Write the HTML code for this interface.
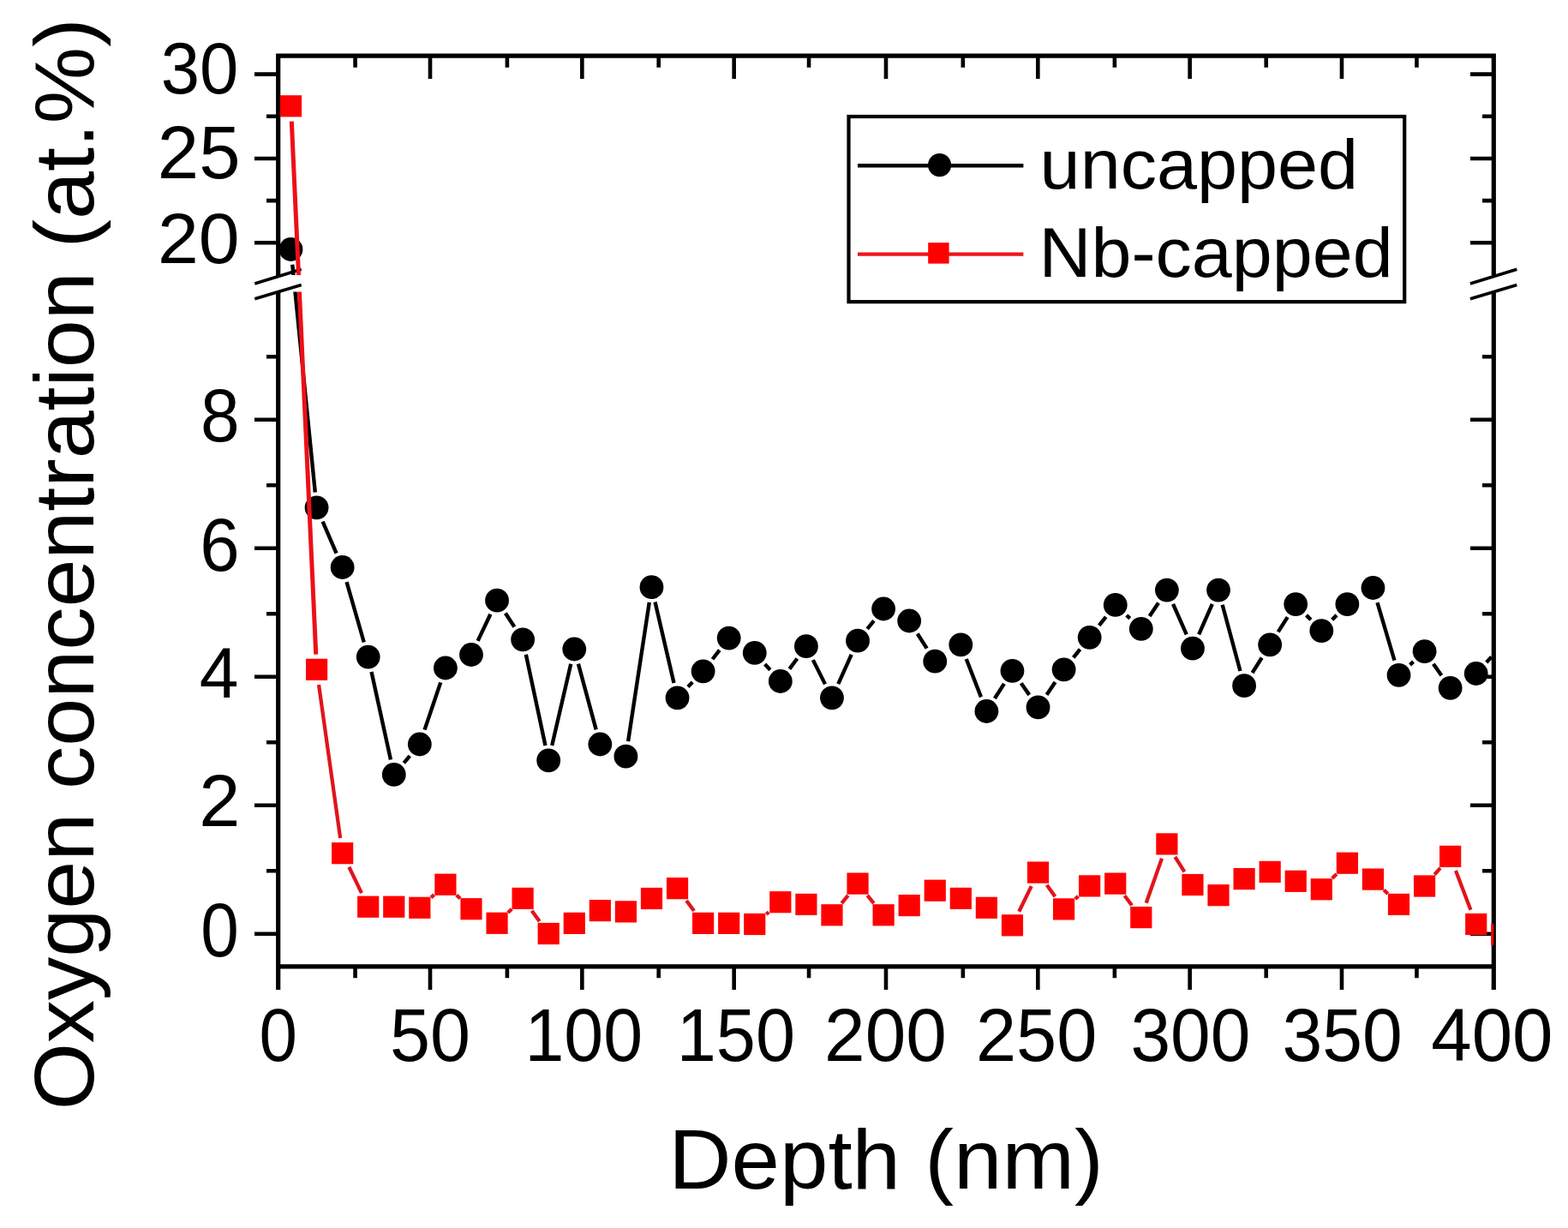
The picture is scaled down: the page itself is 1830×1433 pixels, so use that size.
<!DOCTYPE html>
<html><head><meta charset="utf-8"><title>Oxygen concentration vs depth</title>
<style>html,body{margin:0;padding:0;background:#fff;}svg{display:block;}</style>
</head><body>
<svg width="1830" height="1433" viewBox="0 0 1830 1433"><rect width="100%" height="100%" fill="#fff"/><defs><clipPath id="cu"><rect x="324.7" y="65.2" width="1418.6" height="255.8"/></clipPath><clipPath id="cl"><rect x="324.7" y="340.5" width="1418.6" height="787.3"/></clipPath></defs><path d="M502.02 1127.8V1155M502.02 65.2V92M679.35 1127.8V1155M679.35 65.2V92M856.67 1127.8V1155M856.67 65.2V92M1034 1127.8V1155M1034 65.2V92M1211.33 1127.8V1155M1211.33 65.2V92M1388.65 1127.8V1155M1388.65 65.2V92M1565.98 1127.8V1155M1565.98 65.2V92M414.56 1127.8V1141.3M414.56 65.2V78.7M591.89 1127.8V1141.3M591.89 65.2V78.7M768.71 1127.8V1141.3M768.71 65.2V78.7M944.04 1127.8V1141.3M944.04 65.2V78.7M1123.86 1127.8V1141.3M1123.86 65.2V78.7M1300.89 1127.8V1141.3M1300.89 65.2V78.7M1477.71 1127.8V1141.3M1477.71 65.2V78.7M1653.44 1127.8V1141.3M1653.44 65.2V78.7M297 86.6H324.7M1716 86.6H1743.3M297 184.95H324.7M1716 184.95H1743.3M297 283.3H324.7M1716 283.3H1743.3M297 1089.8H324.7M1716 1089.8H1743.3M297 939.8H324.7M1716 939.8H1743.3M297 789.8H324.7M1716 789.8H1743.3M297 639.8H324.7M1716 639.8H1743.3M297 489.8H324.7M1716 489.8H1743.3M311 135.78H324.7M1730 135.78H1743.3M311 234.12H324.7M1730 234.12H1743.3M311 1016.3H324.7M1730 1016.3H1743.3M311 866.3H324.7M1730 866.3H1743.3M311 716.3H324.7M1730 716.3H1743.3M311 566.3H324.7M1730 566.3H1743.3M311 416.3H324.7M1730 416.3H1743.3" stroke="#000" stroke-width="4.6" fill="none"/><path d="M322.1 65.2H1745.9M322.1 1127.8H1745.9M324.7 62.6V322.5M324.7 340V1155M1743.3 62.6V321.3M1743.3 341.5V1155" stroke="#000" stroke-width="5.2" fill="none"/><path d="M297.3 331L351.7 314.3M297.3 348.8L351.7 332.5M1715.9 331L1770.3 314.3M1715.9 348.8L1770.3 332.5" stroke="#000" stroke-width="3.6" fill="none"/><g clip-path="url(#cu)"><path d="M341.27 308.71L367.8 574.59M376.62 608.64L392.59 645.66M404.56 679.11L424.79 749.49M433.52 783.99L455.97 886.51M471.3 890.33L478.33 882.07M495.55 851.64L514.22 796.36M557.63 747.92L572.42 716.78M589.86 715.56L600.33 731.44M613.84 763.71L636.49 869.99M644.21 870.06L666.26 774.84M674.92 774.68L695.69 851.32M733.09 865.1L757.8 702.8M764.52 702.54L786.51 796.96M802.94 801.52L808.23 796.08M831.54 769.24L839.77 758.66M892.73 775.08L898.86 781.82M921.39 780.67L930.34 768.53M948.86 770.12L963.01 798.38M978.29 798.08L993.72 763.92M1012.23 733.86L1019.92 724.34M1070.74 739.51L1081.69 756.69M1127.75 769L1144.96 813.4M1160.95 814.99L1171.9 797.81M1191.72 797.34L1201.27 810.86M1221.56 810.69L1231.57 796.01M1252.74 767.41L1260.53 757.69M1282.73 729.86L1290.68 719.84M1314.79 718.01L1318.76 721.69M1341.67 718.98L1352.02 703.42M1369.07 704.88L1384.76 740.42M1399.14 740.42L1414.83 704.88M1426.65 705.79L1447.46 783.01M1461.57 785.13L1472.68 767.47M1491.71 737.38L1502.68 720.12M1524.62 717.88L1529.91 723.32M1554.69 723.32L1559.98 717.88M1607.48 703.07L1627.47 770.73M1645.62 775.76L1649.47 772.24M1672.84 774.74L1682.39 788.26M1734.79 772.92L1740.72 766.48" stroke="#000" stroke-width="4.4" fill="none"/><g fill="#000"><circle cx="339.5" cy="291" r="13.9"/><circle cx="369.57" cy="592.3" r="13.9"/><circle cx="399.64" cy="662" r="13.9"/><circle cx="429.71" cy="766.6" r="13.9"/><circle cx="459.78" cy="903.9" r="13.9"/><circle cx="489.85" cy="868.5" r="13.9"/><circle cx="519.92" cy="779.5" r="13.9"/><circle cx="549.99" cy="764" r="13.9"/><circle cx="580.06" cy="700.7" r="13.9"/><circle cx="610.13" cy="746.3" r="13.9"/><circle cx="640.2" cy="887.4" r="13.9"/><circle cx="670.27" cy="757.5" r="13.9"/><circle cx="700.34" cy="868.5" r="13.9"/><circle cx="730.41" cy="882.7" r="13.9"/><circle cx="760.48" cy="685.2" r="13.9"/><circle cx="790.55" cy="814.3" r="13.9"/><circle cx="820.62" cy="783.3" r="13.9"/><circle cx="850.69" cy="744.6" r="13.9"/><circle cx="880.76" cy="761.9" r="13.9"/><circle cx="910.83" cy="795" r="13.9"/><circle cx="940.9" cy="754.2" r="13.9"/><circle cx="970.97" cy="814.3" r="13.9"/><circle cx="1001.04" cy="747.7" r="13.9"/><circle cx="1031.11" cy="710.5" r="13.9"/><circle cx="1061.18" cy="724.5" r="13.9"/><circle cx="1091.25" cy="771.7" r="13.9"/><circle cx="1121.32" cy="752.4" r="13.9"/><circle cx="1151.39" cy="830" r="13.9"/><circle cx="1181.46" cy="782.8" r="13.9"/><circle cx="1211.53" cy="825.4" r="13.9"/><circle cx="1241.6" cy="781.3" r="13.9"/><circle cx="1271.67" cy="743.8" r="13.9"/><circle cx="1301.74" cy="705.9" r="13.9"/><circle cx="1331.81" cy="733.8" r="13.9"/><circle cx="1361.88" cy="688.6" r="13.9"/><circle cx="1391.95" cy="756.7" r="13.9"/><circle cx="1422.02" cy="688.6" r="13.9"/><circle cx="1452.09" cy="800.2" r="13.9"/><circle cx="1482.16" cy="752.4" r="13.9"/><circle cx="1512.23" cy="705.1" r="13.9"/><circle cx="1542.3" cy="736.1" r="13.9"/><circle cx="1572.37" cy="705.1" r="13.9"/><circle cx="1602.44" cy="686" r="13.9"/><circle cx="1632.51" cy="787.8" r="13.9"/><circle cx="1662.58" cy="760.2" r="13.9"/><circle cx="1692.65" cy="802.8" r="13.9"/><circle cx="1722.72" cy="786" r="13.9"/></g><path d="M340.31 141.58L368.76 763.52" stroke="#ec1016" stroke-width="5" fill="none"/><path d="M372.04 798.93L397.17 978.07M407.36 1011.74L421.99 1042.16M503.07 1047.38L506.7 1044.12M532.84 1044.44L537.07 1048.46M592.89 1064.97L597.3 1060.73M620.64 1062.77L629.69 1075.13M801.13 1051.02L810.04 1063.08M894.27 1066.91L897.32 1064.29M982.25 1054.03L989.76 1044.87M1012.32 1044.87L1019.83 1054.03M1189.26 1063.8L1203.73 1034.1M1221.76 1032.66L1231.37 1046.34M1254.84 1049.01L1258.43 1045.79M1312.52 1045.26L1321.03 1056.44M1337.7 1053.8L1355.99 1001.7M1371.39 999.95L1382.44 1017.45M1554.78 1025.1L1559.89 1019.9M1615.19 1038.52L1619.76 1042.98M1674.26 1020.56L1680.97 1012.84M1698.98 1016.04L1716.39 1061.86" stroke="#e0141c" stroke-width="4.3" fill="none"/><g fill="#ff0000"><rect x="326.9" y="111.2" width="25.2" height="25.2"/><rect x="356.97" y="768.7" width="25.2" height="25.2"/><rect x="387.04" y="983.1" width="25.2" height="25.2"/><rect x="417.11" y="1045.6" width="25.2" height="25.2"/><rect x="447.18" y="1045.6" width="25.2" height="25.2"/><rect x="477.25" y="1046.7" width="25.2" height="25.2"/><rect x="507.32" y="1019.6" width="25.2" height="25.2"/><rect x="537.39" y="1048.1" width="25.2" height="25.2"/><rect x="567.46" y="1064.7" width="25.2" height="25.2"/><rect x="597.53" y="1035.8" width="25.2" height="25.2"/><rect x="627.6" y="1076.9" width="25.2" height="25.2"/><rect x="657.67" y="1064.8" width="25.2" height="25.2"/><rect x="687.74" y="1050" width="25.2" height="25.2"/><rect x="717.81" y="1051.3" width="25.2" height="25.2"/><rect x="747.88" y="1035.9" width="25.2" height="25.2"/><rect x="777.95" y="1024.1" width="25.2" height="25.2"/><rect x="808.02" y="1064.8" width="25.2" height="25.2"/><rect x="838.09" y="1064.8" width="25.2" height="25.2"/><rect x="868.16" y="1065.9" width="25.2" height="25.2"/><rect x="898.23" y="1040.1" width="25.2" height="25.2"/><rect x="928.3" y="1042.8" width="25.2" height="25.2"/><rect x="958.37" y="1055.2" width="25.2" height="25.2"/><rect x="988.44" y="1018.5" width="25.2" height="25.2"/><rect x="1018.51" y="1055.2" width="25.2" height="25.2"/><rect x="1048.58" y="1044" width="25.2" height="25.2"/><rect x="1078.65" y="1026.6" width="25.2" height="25.2"/><rect x="1108.72" y="1035.8" width="25.2" height="25.2"/><rect x="1138.79" y="1046.7" width="25.2" height="25.2"/><rect x="1168.86" y="1067.2" width="25.2" height="25.2"/><rect x="1198.93" y="1005.5" width="25.2" height="25.2"/><rect x="1229" y="1048.3" width="25.2" height="25.2"/><rect x="1259.07" y="1021.3" width="25.2" height="25.2"/><rect x="1289.14" y="1018.5" width="25.2" height="25.2"/><rect x="1319.21" y="1058" width="25.2" height="25.2"/><rect x="1349.28" y="972.3" width="25.2" height="25.2"/><rect x="1379.35" y="1019.9" width="25.2" height="25.2"/><rect x="1409.42" y="1032.1" width="25.2" height="25.2"/><rect x="1439.49" y="1013" width="25.2" height="25.2"/><rect x="1469.56" y="1004.8" width="25.2" height="25.2"/><rect x="1499.63" y="1015.7" width="25.2" height="25.2"/><rect x="1529.7" y="1025.2" width="25.2" height="25.2"/><rect x="1559.77" y="994.6" width="25.2" height="25.2"/><rect x="1589.84" y="1013.5" width="25.2" height="25.2"/><rect x="1619.91" y="1042.8" width="25.2" height="25.2"/><rect x="1649.98" y="1021.4" width="25.2" height="25.2"/><rect x="1680.05" y="986.8" width="25.2" height="25.2"/><rect x="1710.12" y="1065.9" width="25.2" height="25.2"/><rect x="1740.19" y="1077.9" width="25.2" height="25.2"/></g></g><g clip-path="url(#cl)"><path d="M341.27 308.71L367.8 574.59M376.62 608.64L392.59 645.66M404.56 679.11L424.79 749.49M433.52 783.99L455.97 886.51M471.3 890.33L478.33 882.07M495.55 851.64L514.22 796.36M557.63 747.92L572.42 716.78M589.86 715.56L600.33 731.44M613.84 763.71L636.49 869.99M644.21 870.06L666.26 774.84M674.92 774.68L695.69 851.32M733.09 865.1L757.8 702.8M764.52 702.54L786.51 796.96M802.94 801.52L808.23 796.08M831.54 769.24L839.77 758.66M892.73 775.08L898.86 781.82M921.39 780.67L930.34 768.53M948.86 770.12L963.01 798.38M978.29 798.08L993.72 763.92M1012.23 733.86L1019.92 724.34M1070.74 739.51L1081.69 756.69M1127.75 769L1144.96 813.4M1160.95 814.99L1171.9 797.81M1191.72 797.34L1201.27 810.86M1221.56 810.69L1231.57 796.01M1252.74 767.41L1260.53 757.69M1282.73 729.86L1290.68 719.84M1314.79 718.01L1318.76 721.69M1341.67 718.98L1352.02 703.42M1369.07 704.88L1384.76 740.42M1399.14 740.42L1414.83 704.88M1426.65 705.79L1447.46 783.01M1461.57 785.13L1472.68 767.47M1491.71 737.38L1502.68 720.12M1524.62 717.88L1529.91 723.32M1554.69 723.32L1559.98 717.88M1607.48 703.07L1627.47 770.73M1645.62 775.76L1649.47 772.24M1672.84 774.74L1682.39 788.26M1734.79 772.92L1740.72 766.48" stroke="#000" stroke-width="4.4" fill="none"/><g fill="#000"><circle cx="339.5" cy="291" r="13.9"/><circle cx="369.57" cy="592.3" r="13.9"/><circle cx="399.64" cy="662" r="13.9"/><circle cx="429.71" cy="766.6" r="13.9"/><circle cx="459.78" cy="903.9" r="13.9"/><circle cx="489.85" cy="868.5" r="13.9"/><circle cx="519.92" cy="779.5" r="13.9"/><circle cx="549.99" cy="764" r="13.9"/><circle cx="580.06" cy="700.7" r="13.9"/><circle cx="610.13" cy="746.3" r="13.9"/><circle cx="640.2" cy="887.4" r="13.9"/><circle cx="670.27" cy="757.5" r="13.9"/><circle cx="700.34" cy="868.5" r="13.9"/><circle cx="730.41" cy="882.7" r="13.9"/><circle cx="760.48" cy="685.2" r="13.9"/><circle cx="790.55" cy="814.3" r="13.9"/><circle cx="820.62" cy="783.3" r="13.9"/><circle cx="850.69" cy="744.6" r="13.9"/><circle cx="880.76" cy="761.9" r="13.9"/><circle cx="910.83" cy="795" r="13.9"/><circle cx="940.9" cy="754.2" r="13.9"/><circle cx="970.97" cy="814.3" r="13.9"/><circle cx="1001.04" cy="747.7" r="13.9"/><circle cx="1031.11" cy="710.5" r="13.9"/><circle cx="1061.18" cy="724.5" r="13.9"/><circle cx="1091.25" cy="771.7" r="13.9"/><circle cx="1121.32" cy="752.4" r="13.9"/><circle cx="1151.39" cy="830" r="13.9"/><circle cx="1181.46" cy="782.8" r="13.9"/><circle cx="1211.53" cy="825.4" r="13.9"/><circle cx="1241.6" cy="781.3" r="13.9"/><circle cx="1271.67" cy="743.8" r="13.9"/><circle cx="1301.74" cy="705.9" r="13.9"/><circle cx="1331.81" cy="733.8" r="13.9"/><circle cx="1361.88" cy="688.6" r="13.9"/><circle cx="1391.95" cy="756.7" r="13.9"/><circle cx="1422.02" cy="688.6" r="13.9"/><circle cx="1452.09" cy="800.2" r="13.9"/><circle cx="1482.16" cy="752.4" r="13.9"/><circle cx="1512.23" cy="705.1" r="13.9"/><circle cx="1542.3" cy="736.1" r="13.9"/><circle cx="1572.37" cy="705.1" r="13.9"/><circle cx="1602.44" cy="686" r="13.9"/><circle cx="1632.51" cy="787.8" r="13.9"/><circle cx="1662.58" cy="760.2" r="13.9"/><circle cx="1692.65" cy="802.8" r="13.9"/><circle cx="1722.72" cy="786" r="13.9"/></g><path d="M340.31 141.58L368.76 763.52" stroke="#ec1016" stroke-width="5" fill="none"/><path d="M372.04 798.93L397.17 978.07M407.36 1011.74L421.99 1042.16M503.07 1047.38L506.7 1044.12M532.84 1044.44L537.07 1048.46M592.89 1064.97L597.3 1060.73M620.64 1062.77L629.69 1075.13M801.13 1051.02L810.04 1063.08M894.27 1066.91L897.32 1064.29M982.25 1054.03L989.76 1044.87M1012.32 1044.87L1019.83 1054.03M1189.26 1063.8L1203.73 1034.1M1221.76 1032.66L1231.37 1046.34M1254.84 1049.01L1258.43 1045.79M1312.52 1045.26L1321.03 1056.44M1337.7 1053.8L1355.99 1001.7M1371.39 999.95L1382.44 1017.45M1554.78 1025.1L1559.89 1019.9M1615.19 1038.52L1619.76 1042.98M1674.26 1020.56L1680.97 1012.84M1698.98 1016.04L1716.39 1061.86" stroke="#e0141c" stroke-width="4.3" fill="none"/><g fill="#ff0000"><rect x="326.9" y="111.2" width="25.2" height="25.2"/><rect x="356.97" y="768.7" width="25.2" height="25.2"/><rect x="387.04" y="983.1" width="25.2" height="25.2"/><rect x="417.11" y="1045.6" width="25.2" height="25.2"/><rect x="447.18" y="1045.6" width="25.2" height="25.2"/><rect x="477.25" y="1046.7" width="25.2" height="25.2"/><rect x="507.32" y="1019.6" width="25.2" height="25.2"/><rect x="537.39" y="1048.1" width="25.2" height="25.2"/><rect x="567.46" y="1064.7" width="25.2" height="25.2"/><rect x="597.53" y="1035.8" width="25.2" height="25.2"/><rect x="627.6" y="1076.9" width="25.2" height="25.2"/><rect x="657.67" y="1064.8" width="25.2" height="25.2"/><rect x="687.74" y="1050" width="25.2" height="25.2"/><rect x="717.81" y="1051.3" width="25.2" height="25.2"/><rect x="747.88" y="1035.9" width="25.2" height="25.2"/><rect x="777.95" y="1024.1" width="25.2" height="25.2"/><rect x="808.02" y="1064.8" width="25.2" height="25.2"/><rect x="838.09" y="1064.8" width="25.2" height="25.2"/><rect x="868.16" y="1065.9" width="25.2" height="25.2"/><rect x="898.23" y="1040.1" width="25.2" height="25.2"/><rect x="928.3" y="1042.8" width="25.2" height="25.2"/><rect x="958.37" y="1055.2" width="25.2" height="25.2"/><rect x="988.44" y="1018.5" width="25.2" height="25.2"/><rect x="1018.51" y="1055.2" width="25.2" height="25.2"/><rect x="1048.58" y="1044" width="25.2" height="25.2"/><rect x="1078.65" y="1026.6" width="25.2" height="25.2"/><rect x="1108.72" y="1035.8" width="25.2" height="25.2"/><rect x="1138.79" y="1046.7" width="25.2" height="25.2"/><rect x="1168.86" y="1067.2" width="25.2" height="25.2"/><rect x="1198.93" y="1005.5" width="25.2" height="25.2"/><rect x="1229" y="1048.3" width="25.2" height="25.2"/><rect x="1259.07" y="1021.3" width="25.2" height="25.2"/><rect x="1289.14" y="1018.5" width="25.2" height="25.2"/><rect x="1319.21" y="1058" width="25.2" height="25.2"/><rect x="1349.28" y="972.3" width="25.2" height="25.2"/><rect x="1379.35" y="1019.9" width="25.2" height="25.2"/><rect x="1409.42" y="1032.1" width="25.2" height="25.2"/><rect x="1439.49" y="1013" width="25.2" height="25.2"/><rect x="1469.56" y="1004.8" width="25.2" height="25.2"/><rect x="1499.63" y="1015.7" width="25.2" height="25.2"/><rect x="1529.7" y="1025.2" width="25.2" height="25.2"/><rect x="1559.77" y="994.6" width="25.2" height="25.2"/><rect x="1589.84" y="1013.5" width="25.2" height="25.2"/><rect x="1619.91" y="1042.8" width="25.2" height="25.2"/><rect x="1649.98" y="1021.4" width="25.2" height="25.2"/><rect x="1680.05" y="986.8" width="25.2" height="25.2"/><rect x="1710.12" y="1065.9" width="25.2" height="25.2"/><rect x="1740.19" y="1077.9" width="25.2" height="25.2"/></g></g><rect x="990.5" y="136" width="648.7" height="216.2" fill="#fff" stroke="#000" stroke-width="4.2"/><path d="M1001 193.2H1194.4" stroke="#000" stroke-width="4.6"/><circle cx="1096.6" cy="192.6" r="13.6" fill="#000"/><path d="M1001 296.6H1194.4" stroke="#f0141c" stroke-width="4.4"/><rect x="1083.2" y="283.2" width="24.4" height="24.4" fill="#ff0000"/><text transform="matrix(0.8457 0 0 0.8164 1213.61 219.66)" font-size="100" font-family="'Liberation Sans', Arial, sans-serif">uncapped</text><text transform="matrix(0.8448 0 0 0.8164 1212.47 322.96)" font-size="100" font-family="'Liberation Sans', Arial, sans-serif">Nb-capped</text><text transform="matrix(0.7991 0 0 0.8672 302.58 1237.65)" font-size="100" font-family="'Liberation Sans', Arial, sans-serif">0</text><text transform="matrix(0.8459 0 0 0.8672 455.01 1237.65)" font-size="100" font-family="'Liberation Sans', Arial, sans-serif">50</text><text transform="matrix(0.8254 0 0 0.8672 612.41 1237.65)" font-size="100" font-family="'Liberation Sans', Arial, sans-serif">100</text><text transform="matrix(0.8286 0 0 0.8672 789.79 1237.65)" font-size="100" font-family="'Liberation Sans', Arial, sans-serif">150</text><text transform="matrix(0.8549 0 0 0.8672 962.10 1237.65)" font-size="100" font-family="'Liberation Sans', Arial, sans-serif">200</text><text transform="matrix(0.8473 0 0 0.8672 1138.94 1237.65)" font-size="100" font-family="'Liberation Sans', Arial, sans-serif">250</text><text transform="matrix(0.8383 0 0 0.8672 1319.51 1237.65)" font-size="100" font-family="'Liberation Sans', Arial, sans-serif">300</text><text transform="matrix(0.8408 0 0 0.8672 1496.50 1237.65)" font-size="100" font-family="'Liberation Sans', Arial, sans-serif">350</text><text transform="matrix(0.8528 0 0 0.8672 1670.24 1237.65)" font-size="100" font-family="'Liberation Sans', Arial, sans-serif">400</text><text transform="matrix(0.8144 0 0 0.8446 187.70 109.48)" font-size="100" font-family="'Liberation Sans', Arial, sans-serif">30</text><text transform="matrix(0.8686 0 0 0.8700 183.83 208.25)" font-size="100" font-family="'Liberation Sans', Arial, sans-serif">25</text><text transform="matrix(0.8593 0 0 0.8432 183.88 306.98)" font-size="100" font-family="'Liberation Sans', Arial, sans-serif">20</text><text transform="matrix(0.8205 0 0 0.8686 234.03 515.35)" font-size="100" font-family="'Liberation Sans', Arial, sans-serif">8</text><text transform="matrix(0.8344 0 0 0.8743 233.36 665.95)" font-size="100" font-family="'Liberation Sans', Arial, sans-serif">6</text><text transform="matrix(0.8216 0 0 0.8343 232.81 814.10)" font-size="100" font-family="'Liberation Sans', Arial, sans-serif">4</text><text transform="matrix(0.8649 0 0 0.8507 232.35 964.30)" font-size="100" font-family="'Liberation Sans', Arial, sans-serif">2</text><text transform="matrix(0.8012 0 0 0.8828 234.17 1115.74)" font-size="100" font-family="'Liberation Sans', Arial, sans-serif">0</text><text transform="matrix(1.0147 0 0 0.9838 780.28 1387.28)" font-size="100" font-family="'Liberation Sans', Arial, sans-serif">Depth (nm)</text><text transform="translate(109.10 1295.36) rotate(-90) scale(1.0055 0.9784)" font-size="100" font-family="'Liberation Sans', Arial, sans-serif">Oxygen concentration (at.%)</text></svg>
</body></html>
